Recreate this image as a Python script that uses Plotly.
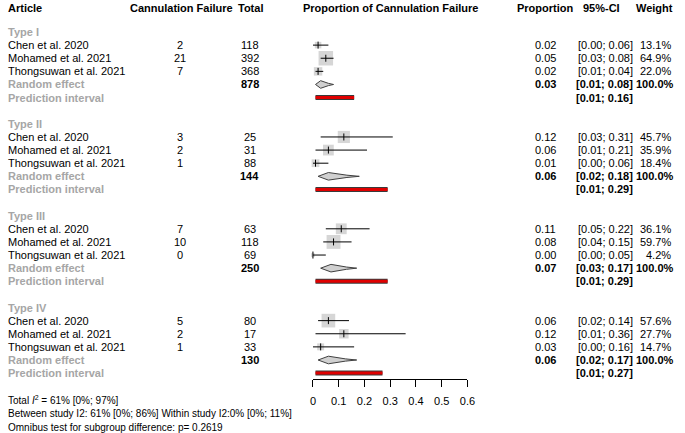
import plotly.graph_objects as go

# ---------------- data ----------------
groups = ["Type I", "Type II", "Type III", "Type IV"]
studies = ["Chen et al. 2020", "Mohamed et al. 2021", "Thongsuwan et al. 2021"]
events = [[2, 21, 7], [3, 2, 1], [7, 10, 0], [5, 2, 1]]
totals = [[118, 392, 368], [25, 31, 88], [63, 118, 69], [80, 17, 33]]
group_totals = [878, 144, 250, 130]
prop = [[0.02, 0.05, 0.02], [0.12, 0.06, 0.01], [0.11, 0.08, 0.00], [0.06, 0.12, 0.03]]
ci_lo = [[0.00, 0.03, 0.01], [0.03, 0.01, 0.00], [0.05, 0.04, 0.00], [0.02, 0.01, 0.00]]
ci_hi = [[0.06, 0.08, 0.04], [0.31, 0.21, 0.06], [0.22, 0.15, 0.05], [0.14, 0.36, 0.16]]
weights = [[13.1, 64.9, 22.0], [45.7, 35.9, 18.4], [36.1, 59.7, 4.2], [57.6, 27.7, 14.7]]
re_est = [0.03, 0.06, 0.07, 0.06]
re_lo = [0.01, 0.02, 0.03, 0.02]
re_hi = [0.08, 0.18, 0.17, 0.17]
pi_lo = [0.01, 0.01, 0.01, 0.01]
pi_hi = [0.16, 0.29, 0.29, 0.27]
x_ticks = [0, 0.1, 0.2, 0.3, 0.4, 0.5, 0.6]
x_tick_labels = ["0", "0.1", "0.2", "0.3", "0.4", "0.5", "0.6"]
footer = [
    "Total <i>I</i><sup>2</sup> = 61% [0%; 97%]",
    "Between study I2: 61% [0%; 86%] Within study I2:0% [0%; 11%]",
    "Omnibus test for subgroup difference: p= 0.2619",
]

# ---------------- layout helpers ----------------
W, H = 685, 433
ROW0_PX, ROW_PX = 32.0, 13.12
FONT = "Liberation Sans, Arial, sans-serif"
GRAY = "#a6a6a6"
FS = 11


def px_x(p):
    return p / W


def px_y(p):
    return 1 - p / H


fig = go.Figure()
ann = []


def txt(x_px, row, s, anchor="left", bold=False, color="black", size=FS):
    if bold:
        s = "<b>" + s + "</b>"
    ann.append(dict(x=px_x(x_px), xref="paper", y=row, yref="y", text=s,
                    showarrow=False, xanchor=anchor, yanchor="middle",
                    font=dict(family=FONT, size=size, color=color)))


# header (row above first group)
hdr_row = (8 - ROW0_PX) / ROW_PX
txt(3, hdr_row, "Article", bold=True)
txt(181, hdr_row, "Cannulation Failure", anchor="center", bold=True)
txt(252, hdr_row, "Total", anchor="center", bold=True)
txt(393.5, hdr_row, "Proportion of Cannulation Failure", anchor="center", bold=True)
txt(551, hdr_row, "Proportion", anchor="center", bold=True)
txt(608, hdr_row, "95%-CI", anchor="center", bold=True)
txt(683, hdr_row, "Weight", anchor="right", bold=True)

sq_x, sq_y, sq_s = [], [], []
ci_x, ci_y = [], []
tick_x, tick_y = [], []

for g, gname in enumerate(groups):
    base = g * 7
    txt(3, base, gname, bold=True, color=GRAY)
    for i, sname in enumerate(studies):
        r = base + 1 + i
        txt(3, r, sname)
        txt(180, r, str(events[g][i]), anchor="center")
        txt(251, r, str(totals[g][i]), anchor="center")
        txt(551, r, f"{prop[g][i]:.2f}", anchor="center")
        txt(642, r, f"[{ci_lo[g][i]:.2f}; {ci_hi[g][i]:.2f}]", anchor="right")
        txt(681, r, f"{weights[g][i]:.1f}%", anchor="right")
        sq_x.append(prop[g][i]); sq_y.append(r); sq_s.append(1.8 * weights[g][i] ** 0.5)
        ci_x += [ci_lo[g][i], ci_hi[g][i], None]; ci_y += [r, r, None]
        tick_x.append(prop[g][i]); tick_y.append(r)
    r = base + 4
    txt(3, r, "Random effect", bold=True, color=GRAY)
    txt(251, r, str(group_totals[g]), anchor="center", bold=True)
    txt(551, r, f"{re_est[g]:.2f}", anchor="center", bold=True)
    txt(642, r, f"[{re_lo[g]:.2f}; {re_hi[g]:.2f}]", anchor="right", bold=True)
    txt(684, r, "100.0%", anchor="right", bold=True)
    # diamond
    h = 0.29
    pinch = re_est[g] + 0.6 * (re_hi[g] - re_est[g])
    dx = [re_lo[g], re_est[g], pinch, re_hi[g], pinch, re_est[g], re_lo[g]]
    dy = [r, r - h, r - h * 0.3, r, r + h * 0.3, r + h, r]
    fig.add_trace(go.Scatter(x=dx, y=dy, mode="lines", fill="toself",
                             fillcolor="#d0d0d0", line=dict(color="#404040", width=1),
                             hoverinfo="skip", showlegend=False, cliponaxis=False))
    r = base + 5
    txt(3, r, "Prediction interval", bold=True, color=GRAY)
    txt(642, r, f"[{pi_lo[g]:.2f}; {pi_hi[g]:.2f}]", anchor="right", bold=True)
    fig.add_trace(go.Scatter(x=[pi_lo[g], pi_hi[g]], y=[r, r], mode="lines",
                             line=dict(color="#3a3a3a", width=5),
                             hoverinfo="skip", showlegend=False, cliponaxis=False))
    fig.add_trace(go.Scatter(x=[pi_lo[g], pi_hi[g]], y=[r, r], mode="lines",
                             line=dict(color="#e00000", width=3),
                             hoverinfo="skip", showlegend=False, cliponaxis=False))

fig.add_trace(go.Scatter(x=sq_x, y=sq_y, mode="markers",
                         marker=dict(symbol="square", size=sq_s, color="#c4c4c4",
                                     line=dict(width=0)),
                         hoverinfo="skip", showlegend=False, cliponaxis=False))
fig.add_trace(go.Scatter(x=ci_x, y=ci_y, mode="lines",
                         line=dict(color="black", width=1),
                         hoverinfo="skip", showlegend=False, cliponaxis=False))
fig.add_trace(go.Scatter(x=tick_x, y=tick_y, mode="markers",
                         marker=dict(symbol="line-ns", size=5,
                                     line=dict(width=1, color="black")),
                         hoverinfo="skip", showlegend=False, cliponaxis=False))

# footer
for k, s in enumerate(footer):
    ann.append(dict(x=px_x(3), xref="paper", y=px_y([400, 413, 427][k]), yref="paper",
                    text=s, showarrow=False, xanchor="left", yanchor="middle",
                    font=dict(family=FONT, size=10, color="black")))

y_top = (0 - ROW0_PX) / ROW_PX
y_bot = (H - ROW0_PX) / ROW_PX

fig.update_layout(
    width=W, height=H, margin=dict(l=0, r=0, t=0, b=0),
    paper_bgcolor="white", plot_bgcolor="white",
    annotations=ann, showlegend=False,
    xaxis=dict(domain=[px_x(315), px_x(472)], range=[0, 0.6], anchor="free",
               position=px_y(379), showline=True, linecolor="black", linewidth=1,
               ticks="outside", ticklen=7, tickcolor="black", tickwidth=1,
               tickvals=x_ticks, ticktext=x_tick_labels, showgrid=False,
               zeroline=False, fixedrange=True, ticklabelstandoff=5,
               tickfont=dict(family=FONT, size=11, color="black")),
    yaxis=dict(domain=[0, 1], range=[y_bot, y_top], visible=False,
               showgrid=False, zeroline=False, fixedrange=True),
)

fig.write_html("out.html", config={"displayModeBar": False},
               post_script="document.body.style.margin='0px';"
                           "document.body.style.overflow='hidden';")
